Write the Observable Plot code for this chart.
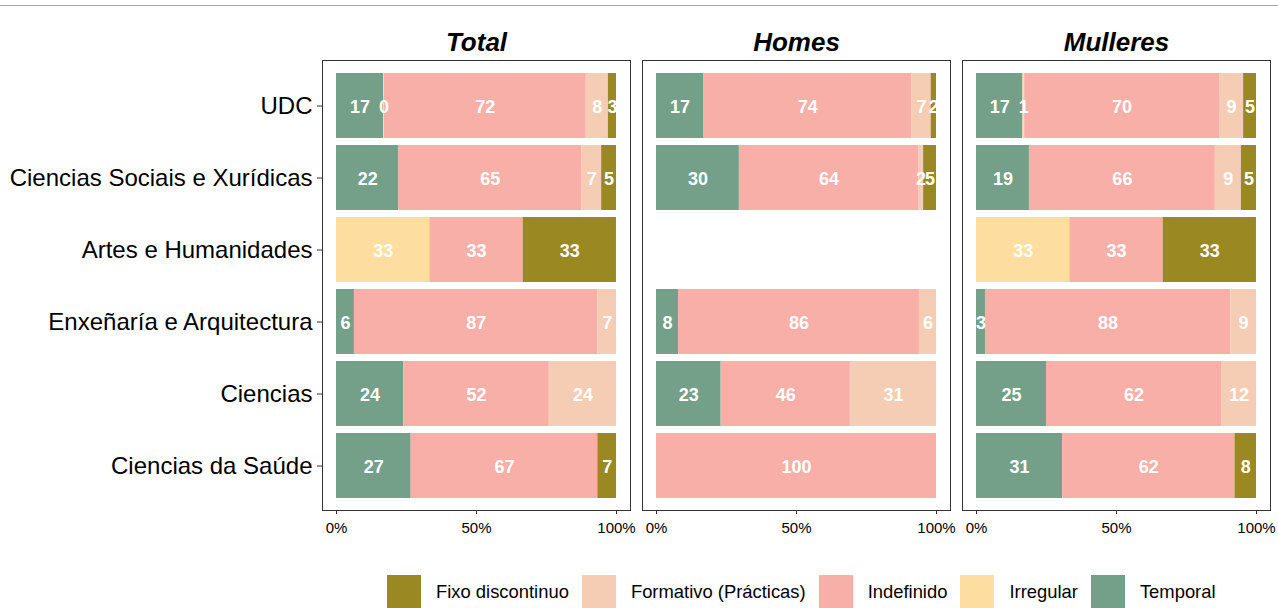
<!DOCTYPE html>
<html>
<head>
<meta charset="utf-8">
<script src="https://cdn.jsdelivr.net/npm/d3@7"></script>
<script src="https://cdn.jsdelivr.net/npm/@observablehq/plot@0.6"></script>
<style>
  html, body { margin: 0; padding: 0; background: white; }
  body { width: 1278px; height: 608px; position: relative; overflow: hidden; font-family: "Liberation Sans", Arial, sans-serif; }
  #chart { position: absolute; left: 0; top: 0; }
  #topline { position: absolute; left: 0; top: 5px; width: 1278px; height: 1px; background: #a6a6a6; z-index: 2; }
  #legend { position: absolute; left: 387px; top: 575px; display: flex; align-items: center; }
  .item { display: flex; align-items: center; margin-right: 13px; }
  .key { width: 34px; height: 34px; margin-right: 15px; }
  .lab { font-size: 18.4px; color: #000; white-space: nowrap; }
</style>
</head>
<body>
<div id="chart"></div>
<div id="topline"></div>
<div id="legend"></div>
<script>
// Categories (top to bottom)
const categories = ["UDC", "Ciencias Sociais e Xurídicas", "Artes e Humanidades", "Enxeñaría e Arquitectura", "Ciencias", "Ciencias da Saúde"];
// Panels
const panels = ["Total", "Homes", "Mulleres"];
// Contract types in stacking order (left to right)
const types = ["Temporal", "Irregular", "Indefinido", "Formativo (Prácticas)", "Fixo discontinuo"];
// Legend order
const legendTypes = ["Fixo discontinuo", "Formativo (Prácticas)", "Indefinido", "Irregular", "Temporal"];
const legendColors = ["#9A8822", "#F5CDB4", "#F8AFA8", "#FDDDA0", "#74A089"];

// Percentages: rows = categories, columns = types (stacking order)
const totalValues = [
  [16.8, 0.3, 72.1, 7.9, 2.9],
  [22.3, 0, 65.3, 7.1, 5.3],
  [0, 33.33, 33.33, 0, 33.33],
  [6.4, 0, 87.0, 6.6, 0],
  [24, 0, 52, 24, 0],
  [26.67, 0, 66.67, 0, 6.67]
];
const homesValues = [
  [16.8, 0, 74.4, 6.9, 1.9],
  [29.6, 0, 64.0, 1.8, 4.6],
  [0, 0, 0, 0, 0],
  [7.9, 0, 86.0, 6.1, 0],
  [23.08, 0, 46.15, 30.77, 0],
  [0, 0, 100, 0, 0]
];
const mulleresValues = [
  [16.6, 0.6, 69.6, 8.6, 4.6],
  [18.9, 0, 66.4, 9.3, 5.4],
  [0, 33.33, 33.33, 0, 33.33],
  [3.2, 0, 87.6, 9.2, 0],
  [25, 0, 62.5, 12.5, 0],
  [30.77, 0, 61.54, 0, 7.69]
];
const xTicks = [0, 50, 100];

const panelValues = [totalValues, homesValues, mulleresValues];
const data = [];
panels.forEach((p, pi) => {
  categories.forEach((c, ci) => {
    types.forEach((t, ti) => {
      const v = panelValues[pi][ci][ti];
      if (v > 0) data.push({panel: p, category: c, type: t, value: v});
    });
  });
});

function roundHalfEven(v) {
  const f = Math.floor(v);
  if (Math.abs(v - f - 0.5) < 1e-9) return (f % 2 === 0) ? f : f + 1;
  return Math.round(v);
}

const chart = Plot.plot({
  width: 1278,
  height: 550,
  marginTop: 60,
  marginBottom: 40,
  marginLeft: 322,
  marginRight: 8,
  style: {fontFamily: "Liberation Sans, Arial, sans-serif", background: "white", color: "black"},
  fx: {domain: panels, paddingInner: 0.0375, paddingOuter: 0, axis: null},
  x: {domain: [-5, 105]},
  y: {domain: categories, paddingInner: 0.1, paddingOuter: 0.15},
  color: {domain: legendTypes, range: legendColors},
  marks: [
    Plot.barX(data, Plot.stackX({x: "value", y: "category", fx: "panel", fill: "type", z: "type", order: types})),
    Plot.text(data, Plot.stackX({
      x: "value", y: "category", fx: "panel", z: "type", order: types,
      text: d => String(roundHalfEven(d.value)),
      fill: "white", fontWeight: "bold", fontSize: 18, dy: 1
    })),
    Plot.frame({stroke: "#333", strokeWidth: 1}),
    Plot.text(panels, {fx: d => d, text: d => d, frameAnchor: "top", lineAnchor: "middle", dy: -18, fontSize: 26, fontWeight: "bold", fontStyle: "italic", fill: "black"}),
    Plot.axisY({fontSize: 24, tickSize: 5, tickPadding: 5, label: null, stroke: "#333", fill: "black"}),
    Plot.axisX({ticks: xTicks, tickFormat: d => d + "%", tickSize: 4, tickPadding: 8, fontSize: 15, label: null, stroke: "#333", fill: "black"})
  ]
});
document.getElementById("chart").appendChild(chart);

const legend = document.getElementById("legend");
legendTypes.forEach((t, i) => {
  const item = document.createElement("div");
  item.className = "item";
  const key = document.createElement("div");
  key.className = "key";
  key.style.background = legendColors[i];
  const lab = document.createElement("span");
  lab.className = "lab";
  lab.textContent = t;
  item.appendChild(key);
  item.appendChild(lab);
  legend.appendChild(item);
});
</script>
</body>
</html>
